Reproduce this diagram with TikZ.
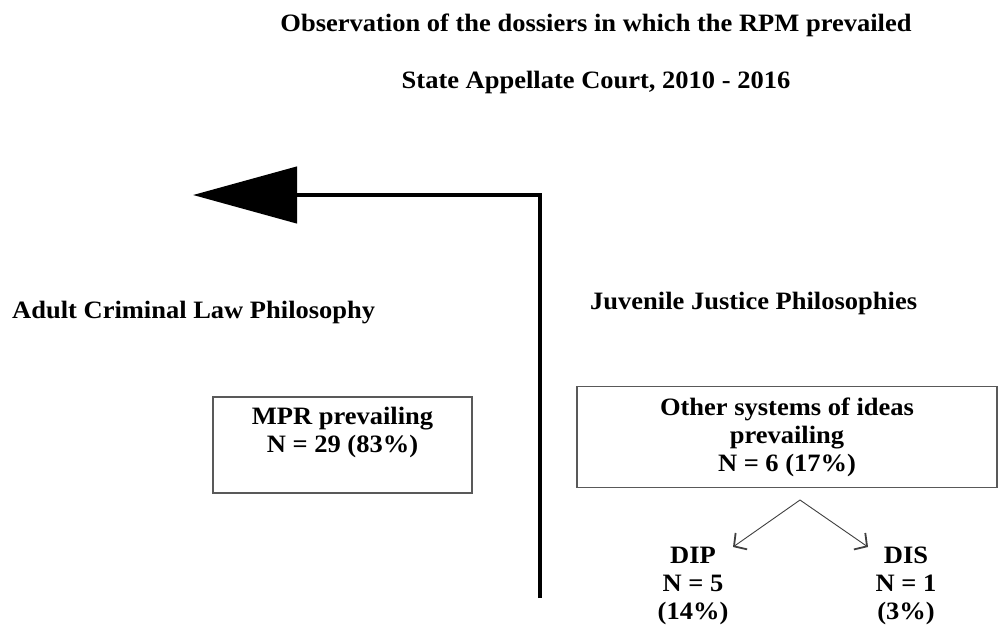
\documentclass[tikz,border=0pt]{standalone}
\usepackage{fontspec}
\setmainfont[FakeStretch=1.06]{Liberation Serif}
\usetikzlibrary{arrows.meta}
\tikzset{
  lbl/.style={font=\bfseries\fontsize{25}{28}\selectfont, inner sep=0pt, align=center},
  bx/.style={draw=black!65, line width=1.6pt, inner sep=0pt},
  thin/.style={draw=black!75, line width=0.9pt, -{Straight Barb[length=9pt,width=20pt,line width=1.8pt]}},
  thick/.style={line width=4.5pt, -{Triangle[length=104pt,width=56pt]}}
}
\begin{document}
\begin{tikzpicture}[x=1pt,y=-1pt]
\useasboundingbox[fill=white] (0,0) rectangle (999,625);
\node[lbl] (t1) at (596,25) {Observation of the dossiers in which the RPM prevailed};
\node[lbl] (t2) at (596,82) {State Appellate Court, 2010 - 2016};
% thick arrow
\coordinate (vb) at (540,598);
\coordinate (corner) at (540,195);
\coordinate (tip) at (193,195);
\draw[thick] (vb) -- (corner) -- (tip);
% labels
\node[lbl, anchor=west] (adult) at (12,313) {Adult Criminal Law Philosophy};
\node[lbl, anchor=west] (juv) at (590,303) {Juvenile Justice Philosophies};
% boxes
\node[bx, minimum width=259pt, minimum height=96pt] (mpr) at (342.5,445) {};
\node[lbl] (mprt) at (342.5,432) {MPR prevailing\\N = 29 (83\%)};
\node[bx, minimum width=420pt, minimum height=101pt] (oth) at (787,437) {};
\node[lbl] (otht) at (787,437) {Other systems of ideas\\prevailing\\N = 6 (17\%)};
% sub arrows
\coordinate (apex) at (800,500);
\coordinate (le) at (733,547);
\coordinate (re) at (868,547);
\draw[thin] (apex) -- (le);
\draw[thin] (apex) -- (re);
\node[lbl] (dip) at (693,586) {DIP\\N = 5\\(14\%)};
\node[lbl] (dis) at (906,586) {DIS\\N = 1\\(3\%)};
\end{tikzpicture}
\end{document}
